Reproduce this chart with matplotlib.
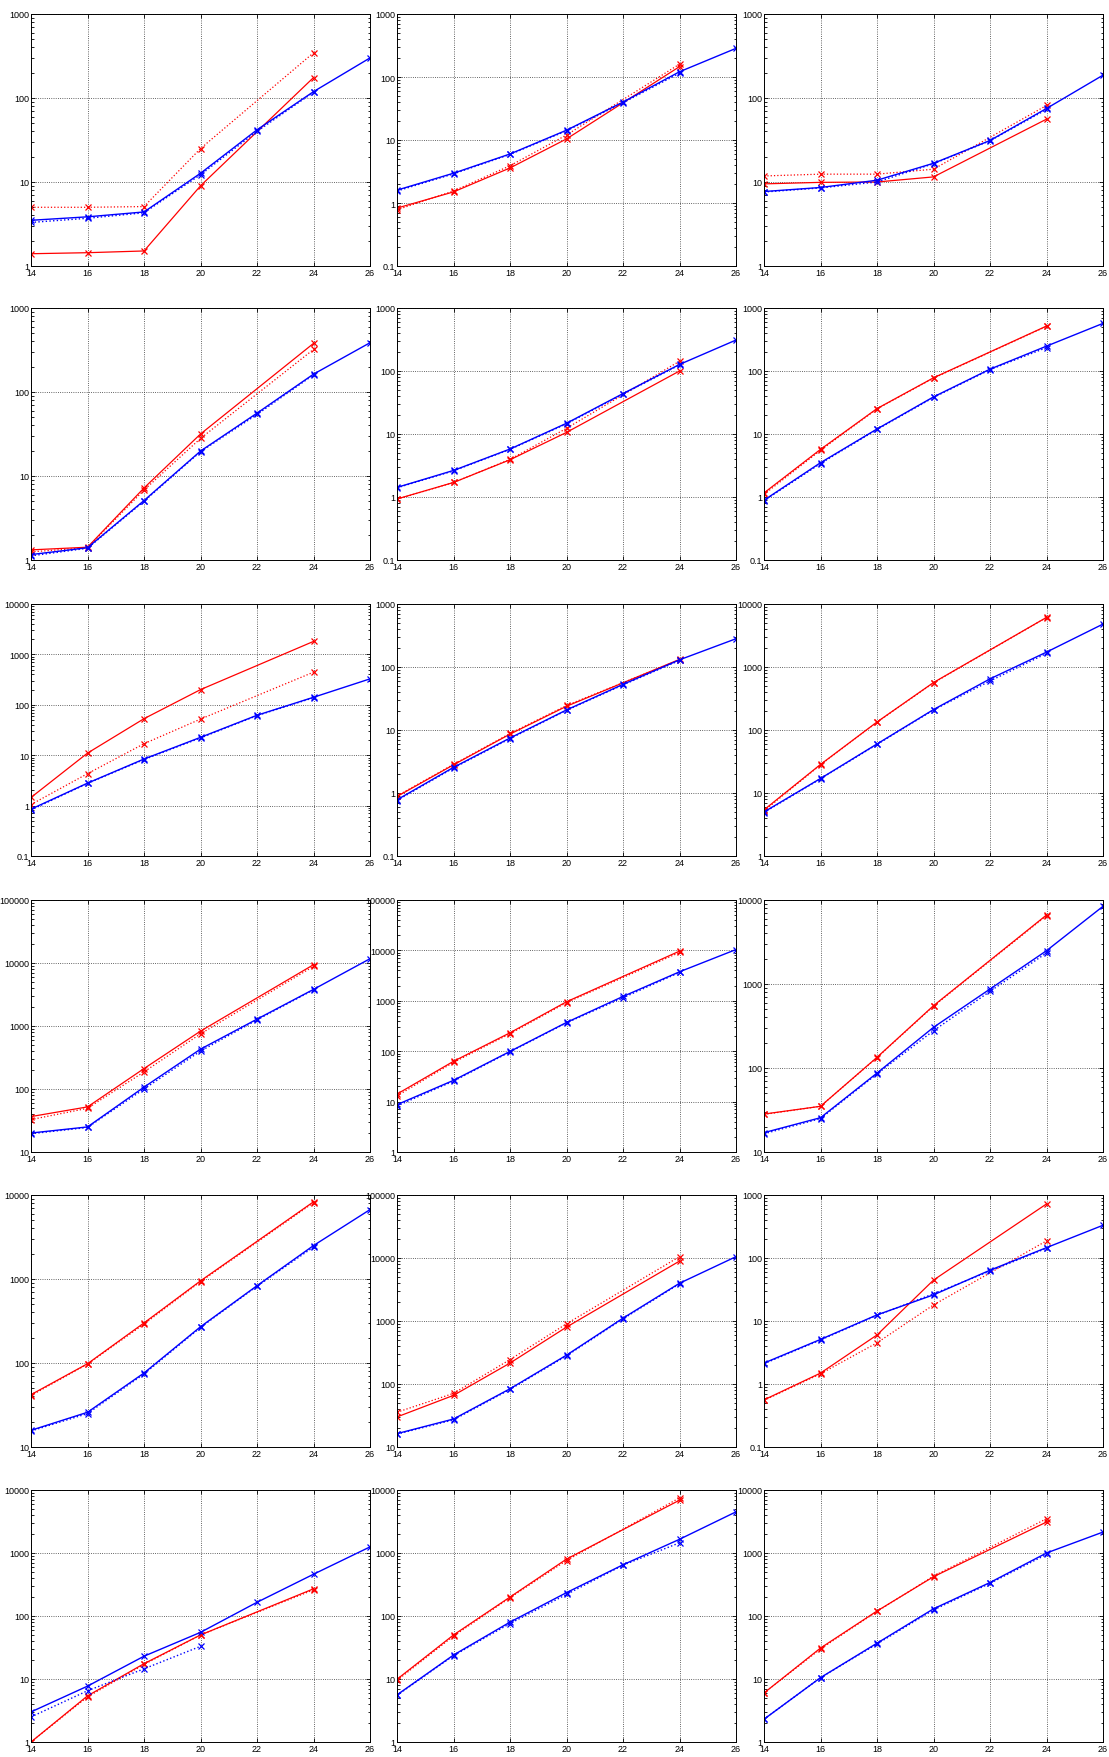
import matplotlib
matplotlib.use('Agg')
import matplotlib.pyplot as plt
from matplotlib.ticker import LogLocator, FuncFormatter, NullFormatter

plt.rcParams['font.family'] = ['Liberation Sans', 'DejaVu Sans']

# x positions of the runs
x_red = [14, 16, 18, 20, 24]
x_blue = [14, 16, 18, 20, 22, 24, 26]
x_blue_dot = [14, 16, 18, 20, 22, 24]
x_ticks = [14, 16, 18, 20, 22, 24, 26]

# one entry per panel, row by row
red_solid = [
    [1.40, 1.44, 1.51, 9.0, 175],
    [0.83, 1.5, 3.6, 10.4, 146],
    [9.5, 9.9, 10.0, 11.5, 56],
    [1.32, 1.42, 7.2, 31.6, 379],
    [0.93, 1.70, 3.9, 10.6, 100],
    [1.16, 5.7, 25.3, 78, 517],
    [1.45, 11, 53, 200, 1810],
    [0.88, 2.8, 8.6, 23.8, 132],
    [5.4, 28.4, 134, 567, 6130],
    [36.5, 52, 211, 829, 9400],
    [14.1, 63, 232, 957, 9670],
    [28.3, 35, 134, 552, 6630],
    [42, 98, 300, 950, 8300],
    [30, 66, 215, 800, 8930],
    [0.56, 1.49, 6.0, 44.6, 721],
    [1.0, 5.4, 17.5, 50, 270],
    [9.9, 50, 200, 800, 6900],
    [6.0, 31, 120, 420, 3100],
]
red_dot = [
    [5.0, 5.0, 5.1, 25, 345],
    [0.78, 1.55, 3.9, 12, 160],
    [11.8, 12.4, 12.4, 14.2, 81.5],
    [1.25, 1.40, 6.8, 28, 321],
    [0.92, 1.70, 3.95, 12.3, 143],
    [1.10, 5.5, 25, 77, 510],
    [1.05, 4.3, 16.9, 52, 444],
    [0.90, 2.85, 8.8, 24.5, 130],
    [5.2, 28, 133, 560, 6100],
    [32.7, 49.4, 187, 751, 8840],
    [13, 60, 222, 920, 9100],
    [28, 35, 133, 545, 6500],
    [41, 97, 290, 930, 8100],
    [35.6, 71, 244, 903, 10500],
    [0.55, 1.45, 4.5, 18, 187],
    [1.0, 5.2, 17, 50, 260],
    [9.5, 48, 195, 760, 7500],
    [6.0, 30, 118, 430, 3500],
]
blue_solid = [
    [3.5, 3.85, 4.4, 12.7, 41.8, 119, 300],
    [1.6, 2.97, 6.0, 14.3, 40, 121, 285],
    [7.7, 8.6, 10.5, 16.7, 31.2, 75, 187],
    [1.16, 1.40, 5.1, 19.8, 56, 163, 386],
    [1.42, 2.64, 5.77, 14.8, 43.8, 127, 310],
    [0.89, 3.5, 12, 38.8, 107, 248, 570],
    [0.85, 2.79, 8.4, 22.6, 62, 141, 327],
    [0.78, 2.55, 7.46, 20.8, 53, 130, 281],
    [5.0, 17, 60, 211, 648, 1722, 4800],
    [20, 25, 107, 429, 1285, 3810, 11700],
    [8.7, 26.4, 99, 372, 1220, 3760, 10400],
    [17, 25.6, 87, 305, 871, 2490, 8410],
    [15.8, 25.9, 76, 270, 832, 2500, 6700],
    [16.3, 27.8, 84, 287, 1110, 3970, 10500],
    [2.15, 5.1, 12.5, 26, 64, 146, 331],
    [3.0, 7.7, 23, 55, 165, 460, 1250],
    [5.6, 24, 80, 235, 650, 1650, 4500],
    [2.3, 10.5, 37, 130, 340, 1000, 2150],
]
blue_dot = [
    [3.3, 3.7, 4.3, 12.2, 40, 117],
    [1.55, 2.9, 5.9, 14, 39, 115],
    [7.6, 8.5, 10.0, 16.5, 31, 73],
    [1.12, 1.38, 5.0, 19.5, 54, 160],
    [1.40, 2.6, 5.7, 14.5, 43, 125],
    [0.87, 3.4, 11.8, 38, 105, 235],
    [0.82, 2.75, 8.2, 22, 61, 138],
    [0.76, 2.5, 7.3, 20.5, 52, 127],
    [4.9, 16.8, 59, 208, 600, 1640],
    [19.5, 24.5, 100, 400, 1250, 3750],
    [8.2, 25.5, 97, 365, 1150, 3650],
    [16.5, 25, 85, 278, 818, 2340],
    [15.5, 25, 74, 265, 820, 2400],
    [16, 27, 82, 280, 1080, 3900],
    [2.1, 5.0, 12.3, 27, 62, 143],
    [2.5, 6.5, 14.5, 33],
    [5.5, 23.5, 76, 220, 640, 1450],
    [2.3, 10.5, 36, 125, 330, 950],
]
y_ranges = [
    (1, 1e3), (0.1, 1e3), (1, 1e3),
    (1, 1e3), (0.1, 1e3), (0.1, 1e3),
    (0.1, 1e4), (0.1, 1e3), (1, 1e4),
    (10, 1e5), (1, 1e5), (10, 1e4),
    (10, 1e4), (10, 1e5), (0.1, 1e3),
    (1, 1e4), (1, 1e4), (1, 1e4),
]

W, H = 1109, 1758
fig = plt.figure(figsize=(W / 100, H / 100), dpi=100)

col_left = [31, 397, 764]
row_top = [15, 309, 605, 901, 1196, 1491]
ax_w, ax_h = 339, 252

fmt = FuncFormatter(lambda v, p: '%g' % v)

for i in range(18):
    r, c = divmod(i, 3)
    ax = fig.add_axes([col_left[c] / W, 1 - (row_top[r] + ax_h) / H, ax_w / W, ax_h / H])
    ax.set_yscale('log')

    ax.plot(x_red, red_solid[i], '-', color='#ff0000', lw=0.9, marker='x', ms=4, mew=0.9)
    ax.plot(x_red, red_dot[i], ':', color='#ff0000', lw=0.9, marker='x', ms=4, mew=0.9)
    ax.plot(x_blue, blue_solid[i], '-', color='#0000ff', lw=1.0, marker='x', ms=4, mew=0.9)
    ax.plot(x_blue_dot[:len(blue_dot[i])], blue_dot[i], ':', color='#0000ff', lw=1.0,
            marker='x', ms=4, mew=0.9)

    ax.set_xlim(14, 26)
    ax.set_ylim(*y_ranges[i])
    ax.set_xticks(x_ticks)
    ax.yaxis.set_major_locator(LogLocator(base=10, numticks=10))
    ax.yaxis.set_minor_locator(LogLocator(base=10, subs=range(2, 10), numticks=100))
    ax.yaxis.set_major_formatter(fmt)
    ax.yaxis.set_minor_formatter(NullFormatter())

    ax.grid(True, which='major', color='#333333', linestyle=':', linewidth=0.6)
    ax.tick_params(which='both', direction='in', top=True, right=True,
                   labelsize=6.5, pad=1.2, width=0.6)
    ax.tick_params(which='major', length=3)
    ax.tick_params(which='minor', length=1.8)
    for s in ax.spines.values():
        s.set_linewidth(0.7)

fig.savefig('out.png', dpi=100)
